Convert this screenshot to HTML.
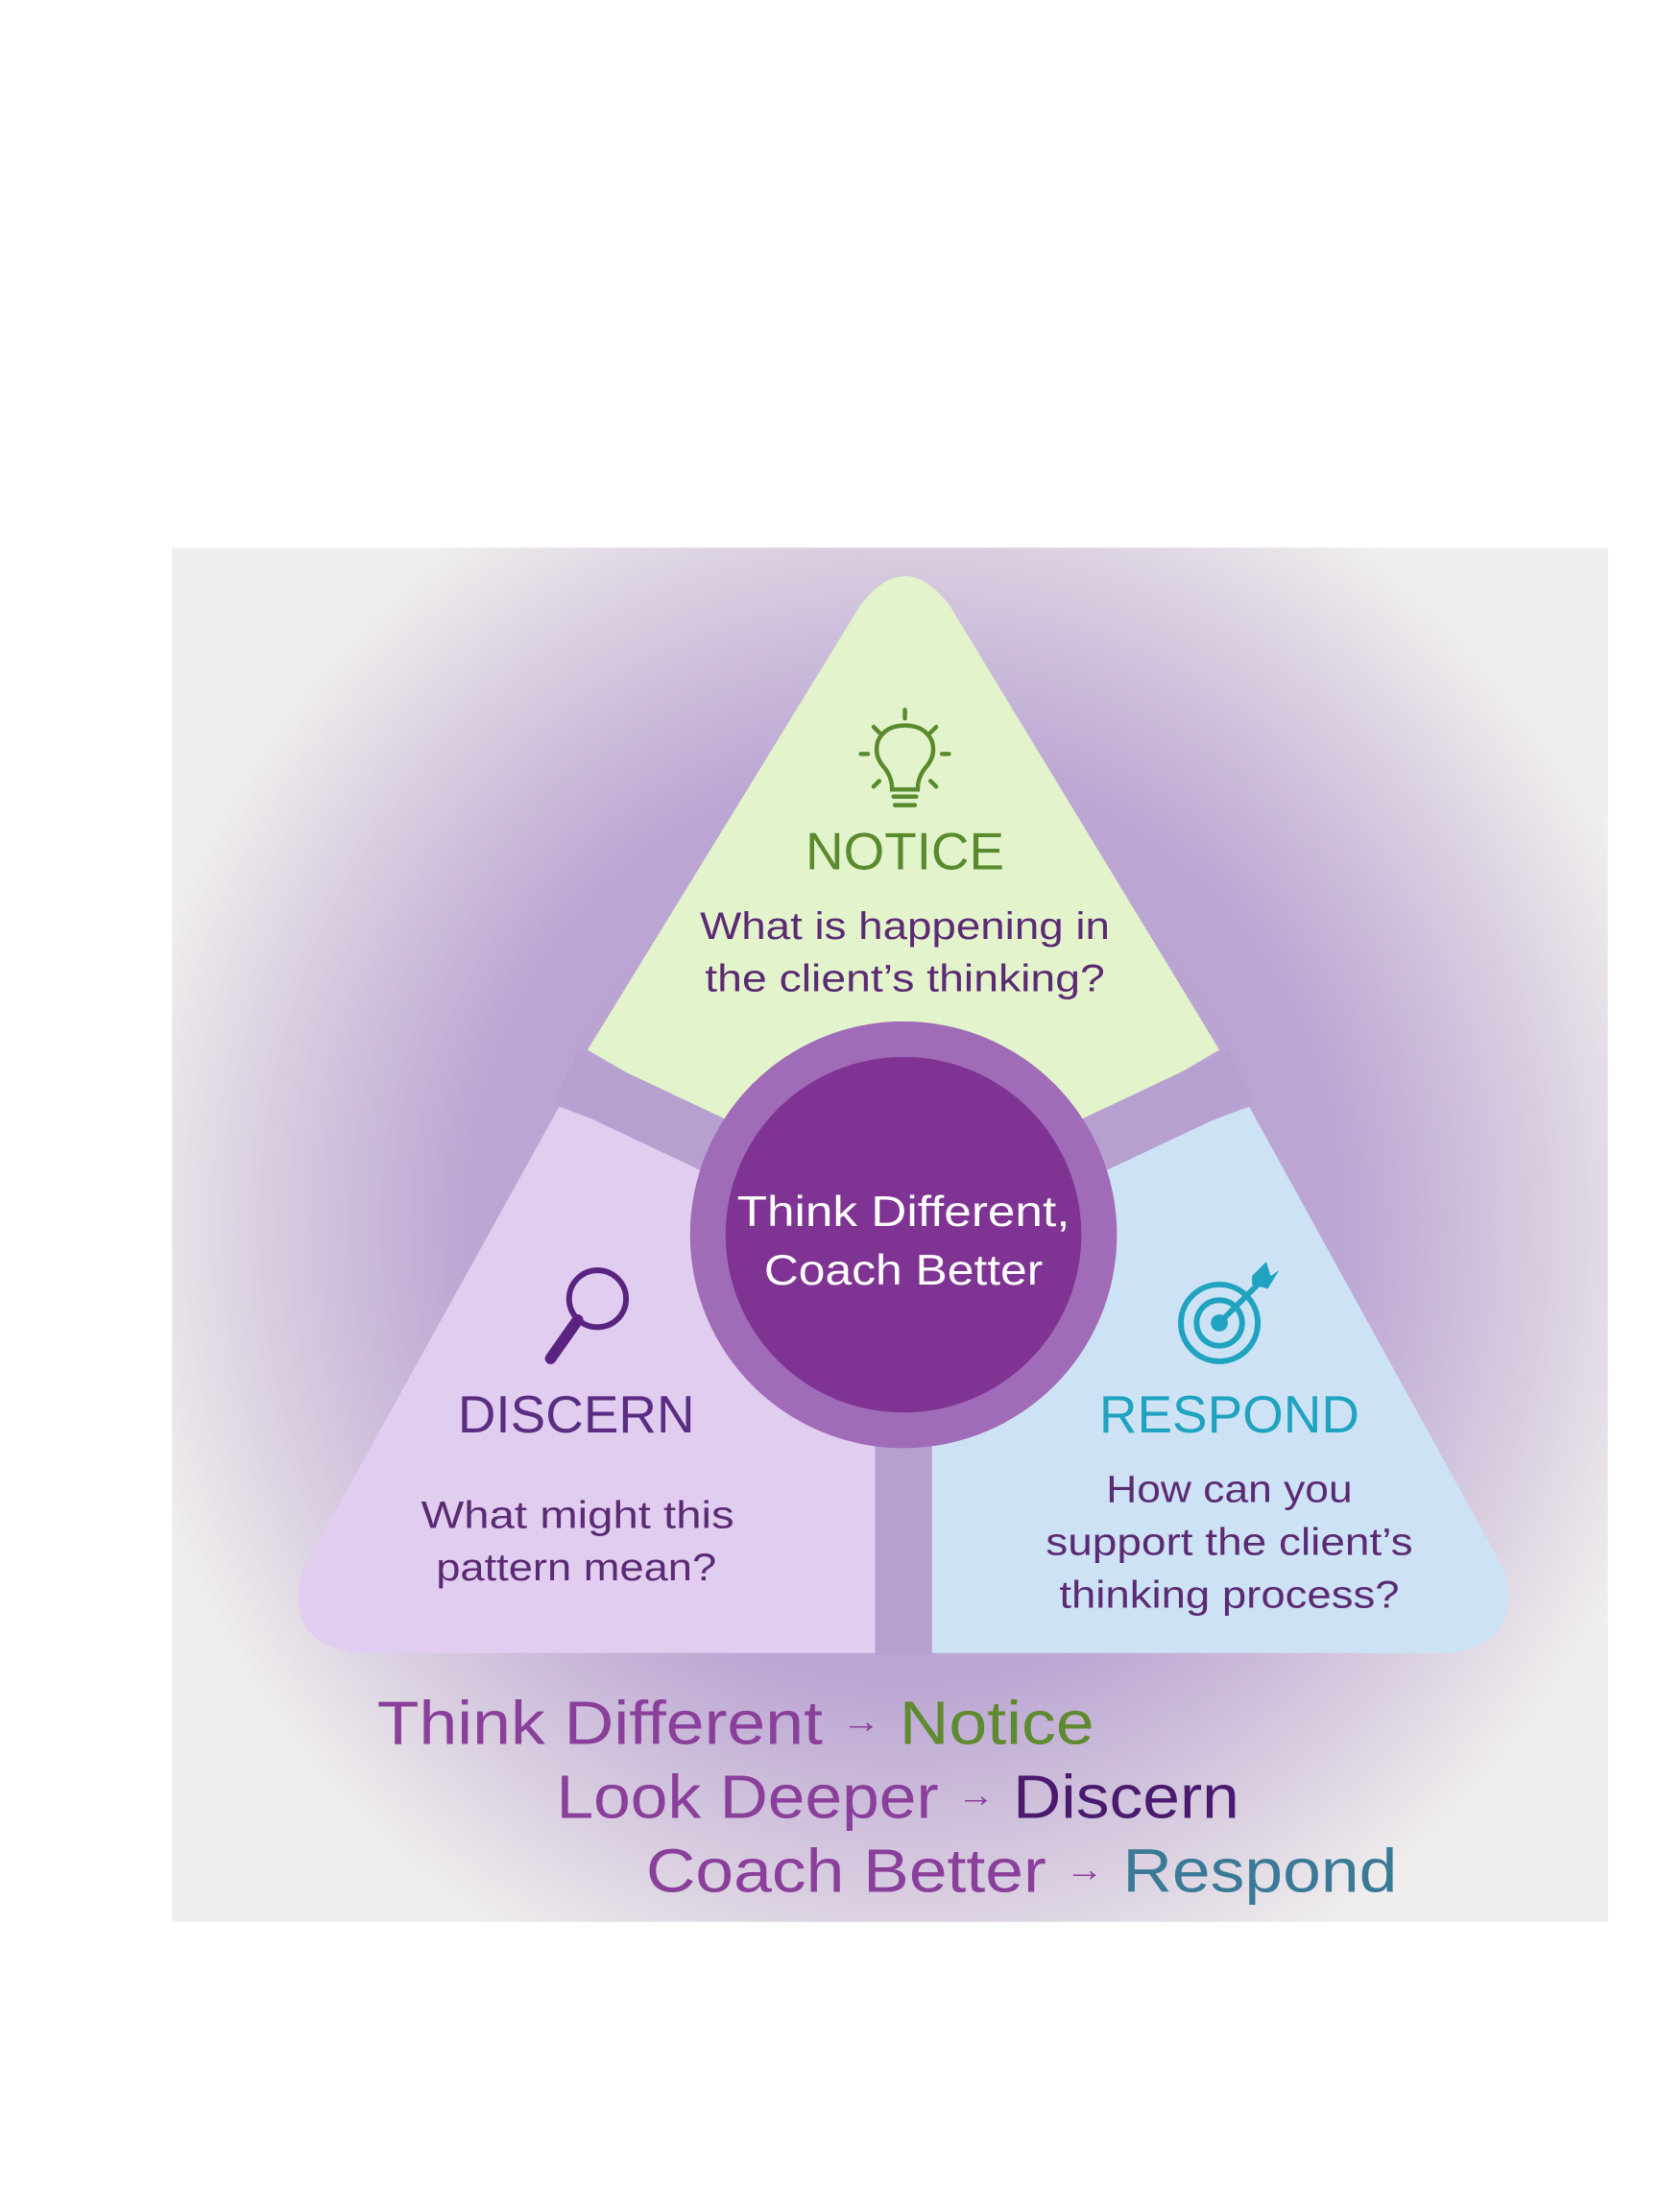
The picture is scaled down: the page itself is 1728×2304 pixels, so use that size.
<!DOCTYPE html>
<html><head><meta charset="utf-8"><style>html,body{margin:0;padding:0;background:#fff}svg{display:block}</style></head>
<body>
<svg width="1728" height="2304" viewBox="0 0 1166 1555" preserveAspectRatio="none" xmlns="http://www.w3.org/2000/svg" font-family="'Liberation Sans', sans-serif">
<defs>
<radialGradient id="bg" cx="636" cy="860" r="560" gradientUnits="userSpaceOnUse" gradientTransform="translate(636 860) scale(1 1.05) translate(-636 -860)">
<stop offset="0" stop-color="#b69dd0"/>
<stop offset="0.55" stop-color="#bca6d3"/>
<stop offset="0.8" stop-color="#d8cde0"/>
<stop offset="1" stop-color="#f1efed"/>
</radialGradient>
</defs>
<rect width="1166" height="1555" fill="#fff"/>
<rect x="121" y="385" width="1009" height="966" fill="#f1efed"/>
<rect x="121" y="385" width="1009" height="966" fill="url(#bg)"/>
<path d="M413,738 L605,425 Q636,385 667,425 L857,738 L635,868 Z" fill="#e3f4cc"/>
<path d="M393,778 L635,868 L635,1162 L250,1162 Q200,1155 212,1105 Z" fill="#e1cdf0"/>
<path d="M878,778 L635,868 L635,1162 L1020,1162 Q1070,1155 1058,1105 Z" fill="#cde2f5"/>
<g stroke="#b7a0cf" stroke-width="40" stroke-linecap="butt">
<line x1="635" y1="868" x2="398" y2="756"/>
<line x1="635" y1="868" x2="872" y2="756"/>
<line x1="635" y1="868" x2="635" y2="1163"/>
</g>
<circle cx="635" cy="868" r="150" fill="#a06bb7"/>
<circle cx="635" cy="868" r="125" fill="#7f3393"/>
<g font-size="30" fill="#fff" text-anchor="middle" lengthAdjust="spacingAndGlyphs">
<text x="635" y="862" textLength="234" lengthAdjust="spacingAndGlyphs">Think Different,</text>
<text x="635" y="903" textLength="196" lengthAdjust="spacingAndGlyphs">Coach Better</text>
</g>
<g stroke="#5a8a2e" stroke-width="3" fill="none" stroke-linecap="round">
<path d="M627,555 Q627,546 621,539 Q614,531 617,521 Q622,510 636,510 Q650,510 655,521 Q658,531 651,539 Q645,546 645,555 Z"/>
<line x1="628" y1="560" x2="644" y2="560"/><line x1="629" y1="566" x2="643" y2="566"/>
<line x1="636" y1="499" x2="636" y2="505"/><line x1="614" y1="511" x2="618" y2="515"/><line x1="658" y1="511" x2="654" y2="515"/>
<line x1="605" y1="530" x2="610" y2="530"/><line x1="662" y1="530" x2="667" y2="530"/>
<line x1="614" y1="553" x2="618" y2="549"/><line x1="658" y1="553" x2="654" y2="549"/>
</g>
<text x="636" y="611" font-size="37" fill="#5a8a2e" text-anchor="middle">NOTICE</text>
<g font-size="27" fill="#5b2a73" text-anchor="middle">
<text x="636" y="660" textLength="288" lengthAdjust="spacingAndGlyphs">What is happening in</text>
<text x="636" y="697" textLength="281" lengthAdjust="spacingAndGlyphs">the client’s thinking?</text>
<text x="406" y="1074" textLength="220" lengthAdjust="spacingAndGlyphs">What might this</text>
<text x="405" y="1111" textLength="197" lengthAdjust="spacingAndGlyphs">pattern mean?</text>
<text x="864" y="1056" textLength="173" lengthAdjust="spacingAndGlyphs">How can you</text>
<text x="864" y="1093" textLength="258" lengthAdjust="spacingAndGlyphs">support the client’s</text>
<text x="864" y="1130" textLength="239" lengthAdjust="spacingAndGlyphs">thinking process?</text>
</g>
<circle cx="420" cy="913" r="20" fill="none" stroke="#5a2382" stroke-width="4"/>
<line x1="406" y1="928" x2="387" y2="955" stroke="#5a2382" stroke-width="8" stroke-linecap="round"/>
<text x="405" y="1007" font-size="37" fill="#5a2d82" text-anchor="middle">DISCERN</text>
<g fill="none" stroke="#1fa3c0" stroke-width="4">
<circle cx="857" cy="930" r="27"/><circle cx="857" cy="930" r="16"/>
</g>
<circle cx="857" cy="930" r="6" fill="#1fa3c0"/>
<line x1="857" y1="930" x2="887" y2="900" stroke="#1fa3c0" stroke-width="4"/>
<path d="M880,897 L890,887 L893,897 L899,893 L891,906 L880,903 Z" fill="#1fa3c0"/>
<text x="864" y="1007" font-size="37" fill="#1fa3c0" text-anchor="middle">RESPOND</text>
<text x="265" y="1226" font-size="43" textLength="504" lengthAdjust="spacingAndGlyphs"><tspan fill="#8a3f9a">Think Different </tspan><tspan fill="#8a3f9a" font-size="24" dy="-8">→</tspan><tspan fill="#5f8a30" dy="8"> Notice</tspan></text>
<text x="391" y="1278" font-size="43" textLength="480" lengthAdjust="spacingAndGlyphs"><tspan fill="#8a3f9a">Look Deeper </tspan><tspan fill="#8a3f9a" font-size="24" dy="-8">→</tspan><tspan fill="#4a1a6e" dy="8"> Discern</tspan></text>
<text x="454" y="1330" font-size="43" textLength="528" lengthAdjust="spacingAndGlyphs"><tspan fill="#8a3f9a">Coach Better </tspan><tspan fill="#8a3f9a" font-size="24" dy="-8">→</tspan><tspan fill="#3a7a96" dy="8"> Respond</tspan></text>
</svg>
</body></html>
